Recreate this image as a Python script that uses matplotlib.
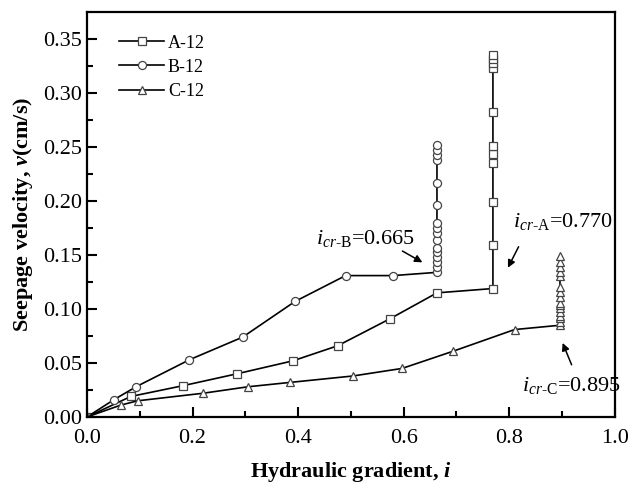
import matplotlib
matplotlib.use("Agg")
import matplotlib.pyplot as plt

plt.rcParams.update({
    "font.family": "Liberation Serif",
    "mathtext.fontset": "custom",
    "mathtext.rm": "Liberation Serif",
    "mathtext.it": "Liberation Serif:italic",
    "mathtext.bf": "Liberation Serif:bold",
    "mathtext.bfit": "Liberation Serif:italic:bold",
})

# A-12 (squares)
a_x = [0.0, 0.083, 0.182, 0.284, 0.390, 0.475, 0.574, 0.663, 0.769,
       0.769, 0.769, 0.769, 0.769, 0.769, 0.769, 0.769, 0.769, 0.769, 0.769]
a_y = [0.0, 0.019, 0.029, 0.040, 0.052, 0.066, 0.091, 0.115, 0.119,
       0.159, 0.199, 0.235, 0.244, 0.251, 0.283, 0.323, 0.328, 0.332, 0.335]

# B-12 (circles)
b_x = [0.0, 0.051, 0.093, 0.194, 0.295, 0.394, 0.490, 0.580, 0.663,
       0.663, 0.663, 0.663, 0.663, 0.663, 0.663, 0.663, 0.663, 0.663,
       0.663, 0.663, 0.663, 0.663, 0.663, 0.663]
b_y = [0.0, 0.016, 0.028, 0.053, 0.074, 0.107, 0.131, 0.131, 0.134,
       0.139, 0.144, 0.148, 0.153, 0.157, 0.164, 0.170, 0.175, 0.180,
       0.196, 0.217, 0.238, 0.243, 0.247, 0.252]

# C-12 (triangles)
c_x = [0.0, 0.064, 0.096, 0.220, 0.305, 0.384, 0.504, 0.597, 0.694, 0.810, 0.896,
       0.896, 0.896, 0.896, 0.896, 0.896, 0.896, 0.896, 0.896, 0.896,
       0.896, 0.896, 0.896, 0.896, 0.896, 0.896]
c_y = [0.0, 0.011, 0.015, 0.022, 0.028, 0.032, 0.038, 0.045, 0.061, 0.081, 0.085,
       0.088, 0.092, 0.094, 0.097, 0.101, 0.104, 0.106, 0.111, 0.116,
       0.120, 0.131, 0.134, 0.139, 0.1435, 0.149]

fig = plt.figure(figsize=(6.3, 4.88), dpi=100)
ax = fig.add_axes([0.138, 0.1455, 0.838, 0.8295])

kw = dict(color="black", lw=1.2, mfc="white", mec="#444444", mew=0.9, ms=5.8)
ax.plot(a_x, a_y, marker="s", label="A-12", **kw)
ax.plot(b_x, b_y, marker="o", label="B-12", **kw)
ax.plot(c_x, c_y, marker="^", label="C-12", **kw)

ax.set_xlim(0, 1.0)
ax.set_ylim(0, 0.375)
ax.set_xticks([0, 0.2, 0.4, 0.6, 0.8, 1.0])
ax.set_xticks([0.1, 0.3, 0.5, 0.7, 0.9], minor=True)
ax.set_yticks([0, 0.05, 0.10, 0.15, 0.20, 0.25, 0.30, 0.35])
ax.set_yticks([0.025, 0.075, 0.125, 0.175, 0.225, 0.275, 0.325], minor=True)
ax.xaxis.set_major_formatter(matplotlib.ticker.FormatStrFormatter("%.1f"))
ax.yaxis.set_major_formatter(matplotlib.ticker.FormatStrFormatter("%.2f"))
ax.tick_params(which="both", direction="in", width=1.5, labelsize=16, top=False, right=False)
ax.tick_params(which="major", length=7)
ax.tick_params(which="minor", length=4)
ax.tick_params(axis="x", which="major", pad=9)
for s in ax.spines.values():
    s.set_linewidth(1.6)

ax.set_xlabel(r"Hydraulic gradient, $\mathbfit{i}$", fontsize=16, fontweight="bold", labelpad=8)
ax.set_ylabel(r"Seepage velocity, $\mathbfit{v}$(cm/s)", fontsize=16, fontweight="bold", labelpad=6)

ax.legend(loc="upper left", frameon=False, fontsize=13, handlelength=2.5,
          handletextpad=0.2, labelspacing=0.4, bbox_to_anchor=(0.03, 0.985))

arrow = dict(arrowstyle="-|>", color="black", lw=1.1, mutation_scale=11)
ax.annotate("", xy=(0.640, 0.142), xytext=(0.593, 0.155), arrowprops=arrow)
ax.text(0.433, 0.160, r"$i_{cr\text{-B}}$=0.665", fontsize=16, va="baseline")
ax.annotate("", xy=(0.795, 0.136), xytext=(0.820, 0.160), arrowprops=arrow)
ax.text(0.807, 0.176, r"$i_{cr\text{-A}}$=0.770", fontsize=16, va="baseline")
ax.annotate("", xy=(0.899, 0.071), xytext=(0.920, 0.046), arrowprops=arrow)
ax.text(0.825, 0.024, r"$i_{cr\text{-C}}$=0.895", fontsize=16, va="baseline")

fig.savefig("out.png", dpi=100)
